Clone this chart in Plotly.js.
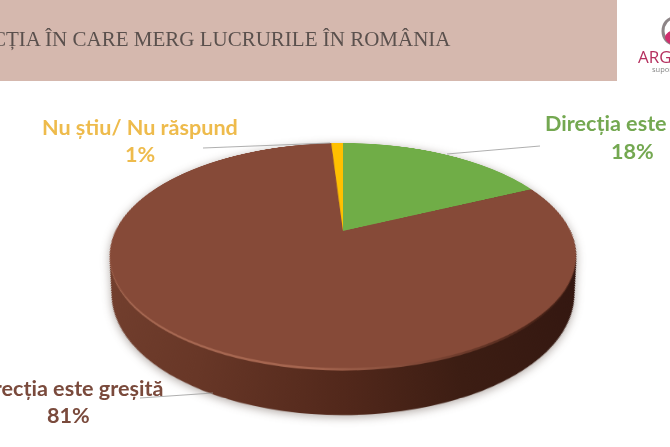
<!DOCTYPE html>
<html><head><meta charset="utf-8">
<script src="https://cdn.plot.ly/plotly-3.0.1.min.js"></script>
<style>
html,body{margin:0;padding:0;background:#fff;width:670px;height:447px;overflow:hidden}
#stage{position:absolute;left:0;top:0;width:670px;height:447px;overflow:hidden}
#shadow{position:absolute;left:0;top:0;width:670px;height:447px;filter:drop-shadow(0 2px 5px rgba(60,40,30,.4))}
#pie{position:absolute;left:-157px;top:-269px;width:1000px;height:1000px;transform-origin:500px 500px;transform:perspective(920px) rotateX(61.9deg)}
#over{position:absolute;left:0;top:0;width:670px;height:447px}
</style></head><body>
<div id="stage"><div id="shadow"><div id="pie"></div></div><div id="over"></div></div>
<script>
const categories=['Direcția este bună','Direcția este greșită','Nu știu/ Nu răspund'];
const values=[18,81,1];
const percentLabels=['18%','81%','1%'];
const sliceColors=['#70ad47','#864a38','#ffc000'];
const titleText='DIRECȚIA ÎN CARE MERG LUCRURILE ÎN ROMÂNIA';

const R=227.5, SIZE=1000, DEPTH=75, SHRINK=0.08, LAYERS=54, BEVEL=3;
function layer(k,colors){
  const t=k/LAYERS, r=R*(1-SHRINK*t)/SIZE, d=DEPTH*t/SIZE;
  return {type:'pie',values:values,labels:categories,sort:false,direction:'clockwise',rotation:0,
    textinfo:'none',hoverinfo:'skip',showlegend:false,
    marker:{colors:colors,line:{width:0}},
    domain:{x:[.5-r,.5+r],y:[.5-r-d,.5+r-d]}};
}
const traces=[];
for(let k=LAYERS;k>=1;k--){
  const c=k<=BEVEL?'#a0604a':'#55291c';
  traces.push(layer(k,[c,c,c]));
}
traces.push(layer(0,sliceColors));
Plotly.newPlot('pie',traces,{width:SIZE,height:SIZE,margin:{l:0,r:0,t:0,b:0},
  paper_bgcolor:'rgba(0,0,0,0)',plot_bgcolor:'rgba(0,0,0,0)',showlegend:false},{staticPlot:true}).then(function(gd){
  // horizontal shading of the pie's side wall and its rim
  const svg=gd.querySelector('svg.main-svg');
  const NS='http://www.w3.org/2000/svg';
  const defs=document.createElementNS(NS,'defs');
  function grad(id,stops){
    const g=document.createElementNS(NS,'linearGradient');
    g.setAttribute('id',id);g.setAttribute('gradientUnits','userSpaceOnUse');
    g.setAttribute('x1',SIZE/2-R);g.setAttribute('x2',SIZE/2+R);g.setAttribute('y1',0);g.setAttribute('y2',0);
    stops.forEach(function(s){const e=document.createElementNS(NS,'stop');
      e.setAttribute('offset',s[0]);e.setAttribute('stop-color',s[1]);g.appendChild(e);});
    defs.appendChild(g);
  }
  grad('sideGrad',[[0,'#74402f'],[0.25,'#683727'],[0.5,'#52281b'],[0.7,'#3c1d13'],[1,'#321610']]);
  grad('rimGrad',[[0,'#a86a54'],[0.45,'#a5654f'],[0.65,'#7c4534'],[0.85,'#4a2418'],[1,'#3a1b12']]);
  svg.insertBefore(defs,svg.firstChild);
  const groups=gd.querySelectorAll('.pielayer .trace');
  groups.forEach(function(g,i){
    if(i===groups.length-1) return;
    const k=LAYERS-i;
    g.querySelectorAll('path.surface').forEach(function(p){
      p.style.fill=k<=BEVEL?'url(#rimGrad)':'url(#sideGrad)';
    });
  });
});

const labelFont={family:'Lato, "Open Sans", sans-serif',size:21.6};
function label(x,y,text,color){return {x,y,text:'<b>'+text+'</b>',showarrow:false,xanchor:'center',yanchor:'middle',font:{...labelFont,color}}}
const lineStyle={color:'#9a9a9a',width:0.8};
Plotly.newPlot('over',[],{width:670,height:447,margin:{l:0,r:0,t:0,b:0},
  paper_bgcolor:'rgba(0,0,0,0)',plot_bgcolor:'rgba(0,0,0,0)',showlegend:false,
  xaxis:{range:[0,670],visible:false,fixedrange:true},
  yaxis:{range:[447,0],visible:false,fixedrange:true},
  shapes:[
    {type:'rect',x0:-2,x1:617,y0:-2,y1:81,fillcolor:'#d5b8ae',line:{width:0},layer:'below'},
    {type:'line',x0:203,y0:148,x1:330,y1:143,line:lineStyle},
    {type:'line',x0:540,y0:146,x1:447,y1:154,line:lineStyle},
    {type:'line',x0:140,y0:398,x1:213,y1:393,line:lineStyle},
    {type:'circle',x0:663,y0:18,x1:685,y1:44,fillcolor:'rgba(0,0,0,0)',line:{color:'#8d8587',width:3}},
    {type:'circle',x0:665,y0:30,x1:687,y1:45,fillcolor:'#d02f6e',line:{width:0}}
  ],
  annotations:[
    {x:453,y:39,text:titleText,showarrow:false,xanchor:'right',yanchor:'middle',
     font:{family:'"Liberation Serif", serif',size:21,color:'#5a504d'}},
    label(140,127,categories[2],'#eebb4c'),
    label(140,154,percentLabels[2],'#eebb4c'),
    label(632,123,categories[0],'#74a851'),
    label(632,151,percentLabels[0],'#74a851'),
    label(68,388,categories[1],'#7a4a3c'),
    label(68,415,percentLabels[1],'#7a4a3c'),
    {x:636,y:56,text:'ARG',showarrow:false,xanchor:'left',yanchor:'middle',
     font:{family:'"Open Sans", sans-serif',size:17,color:'#b5305f'}},
    {x:650,y:69,text:'supor',showarrow:false,xanchor:'left',yanchor:'middle',
     font:{family:'"Open Sans", sans-serif',size:7.5,color:'#888'}}
  ]},{staticPlot:true});
</script></body></html>
